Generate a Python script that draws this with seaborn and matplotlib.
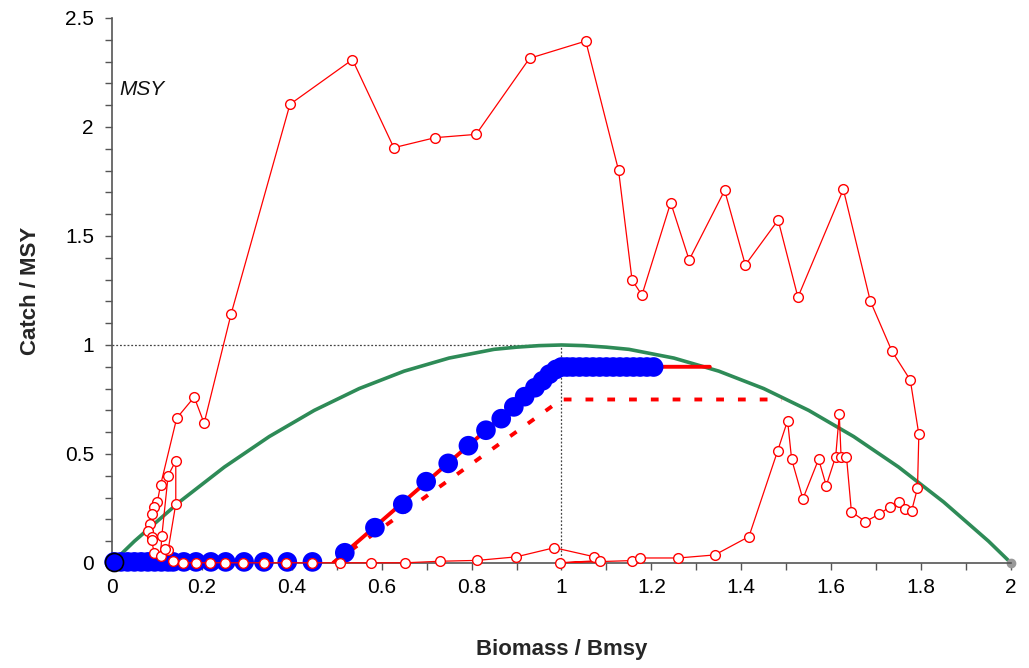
import numpy as np
import pandas as pd
import matplotlib
matplotlib.use("Agg")
import matplotlib.pyplot as plt
from matplotlib.ticker import MultipleLocator, FormatStrFormatter
import seaborn as sns

# --- data --------------------------------------------------------------------
# stock trajectory (Biomass/Bmsy, Catch/MSY), in path order
traj_b = [0.136, 0.158, 0.186, 0.217, 0.252, 0.292, 0.338, 0.388, 0.444, 0.508,
          0.577, 0.653, 0.730, 0.813, 0.899, 0.984, 1.072, 1.085, 0.997, 1.157,
          1.174, 1.260, 1.341, 1.417, 1.481, 1.503, 1.512, 1.537, 1.572, 1.589,
          1.610, 1.618, 1.622, 1.634, 1.645, 1.676, 1.706, 1.731, 1.751, 1.765,
          1.779, 1.792, 1.795, 1.776, 1.735, 1.687, 1.627, 1.526, 1.482, 1.409,
          1.363, 1.284, 1.243, 1.179, 1.157, 1.127, 1.054, 0.929, 0.810, 0.719,
          0.627, 0.535, 0.396, 0.265, 0.205, 0.183, 0.144, 0.108, 0.101, 0.094,
          0.090, 0.084, 0.080, 0.090, 0.088, 0.094, 0.108, 0.111, 0.125, 0.142,
          0.142, 0.125, 0.118]
traj_c = [0.008, 0.001, 0.001, 0.001, 0.001, 0.001, 0.001, 0.001, 0.001, 0.001,
          0.001, 0.001, 0.008, 0.012, 0.028, 0.070, 0.029, 0.011, 0.001, 0.011,
          0.023, 0.023, 0.037, 0.121, 0.515, 0.653, 0.476, 0.294, 0.476, 0.355,
          0.488, 0.682, 0.488, 0.488, 0.235, 0.190, 0.223, 0.258, 0.281, 0.246,
          0.240, 0.343, 0.590, 0.839, 0.972, 1.202, 1.714, 1.219, 1.573, 1.367,
          1.709, 1.390, 1.653, 1.229, 1.298, 1.801, 2.394, 2.315, 1.966, 1.951,
          1.905, 2.309, 2.104, 1.142, 0.641, 0.761, 0.664, 0.356, 0.281, 0.258,
          0.225, 0.179, 0.148, 0.121, 0.105, 0.047, 0.034, 0.125, 0.401, 0.469,
          0.271, 0.060, 0.063]

# catches given by the harvest control rule (blue dots)
rule_b = [0.005, 0.020, 0.035, 0.050, 0.065, 0.080, 0.095, 0.110, 0.125, 0.136,
          0.160, 0.187, 0.220, 0.253, 0.294, 0.338, 0.390, 0.446, 0.518, 0.585,
          0.647, 0.699, 0.748, 0.793, 0.832, 0.866, 0.894, 0.918, 0.941, 0.958,
          0.973, 0.988, 1.000, 1.012, 1.025, 1.040, 1.055, 1.070, 1.085, 1.100,
          1.115, 1.130, 1.145, 1.160, 1.175, 1.190, 1.205]
rule_c = [0.005, 0.005, 0.005, 0.005, 0.005, 0.005, 0.005, 0.005, 0.005, 0.005,
          0.005, 0.005, 0.005, 0.005, 0.005, 0.005, 0.005, 0.005, 0.047, 0.162,
          0.269, 0.373, 0.457, 0.538, 0.609, 0.662, 0.716, 0.763, 0.804, 0.836,
          0.866, 0.888, 0.899, 0.899, 0.899, 0.899, 0.899, 0.899, 0.899, 0.899,
          0.899, 0.899, 0.899, 0.899, 0.899, 0.899, 0.899]

# harvest control rules (solid = applied, dashed = precautionary)
hcr_b = [0.492, 0.995, 1.330]
hcr_c = [0.0, 0.900, 0.900]
pa_b = [0.492, 1.000, 1.490]
pa_c = [0.0, 0.750, 0.750]

# surplus production curve
prod_b = [0.01, 0.05, 0.1, 0.15, 0.2, 0.25, 0.3, 0.35, 0.4, 0.45, 0.5, 0.55,
          0.6, 0.65, 0.7, 0.75, 0.8, 0.85, 0.9, 0.95, 1.0, 1.05, 1.1, 1.15,
          1.2, 1.25, 1.3, 1.35, 1.4, 1.45, 1.5, 1.55, 1.6, 1.65, 1.7, 1.75,
          1.8, 1.85, 1.9, 1.95, 2.0]
prod_c = [0.02, 0.10, 0.19, 0.28, 0.36, 0.44, 0.51, 0.58, 0.64, 0.70, 0.75, 0.80,
          0.84, 0.88, 0.91, 0.94, 0.96, 0.98, 0.99, 0.997, 1.0, 0.997, 0.99, 0.98,
          0.96, 0.94, 0.91, 0.88, 0.84, 0.80, 0.75, 0.70, 0.64, 0.58, 0.51, 0.44,
          0.36, 0.28, 0.19, 0.10, 0.0]

# --- style ---------------------------------------------------------------------
sns.set_style("ticks")
plt.rcParams['font.family'] = ['Liberation Sans', 'DejaVu Sans']
AXIS_GREY = "#555555"

fig = plt.figure(figsize=(10.29, 6.68), dpi=100)
ax = fig.add_axes([0.1088, 0.1572, 0.8737, 0.8159])

# reference lines at MSY / Bmsy
ax.plot([0, 1], [1, 1], color="#444444", lw=0.9, ls=(0, (1.5, 1.5)), zorder=1)
ax.plot([1, 1], [0, 1], color="#444444", lw=0.9, ls=(0, (1.5, 1.5)), zorder=1)

sns.lineplot(x=prod_b, y=prod_c, color="#2e8b57", lw=2.6, sort=False,
             estimator=None, ax=ax, zorder=2)
ax.plot(prod_b[-1], prod_c[-1], "o", color="#999999", ms=6, clip_on=False, zorder=2)

sns.lineplot(x=pa_b, y=pa_c, color="red", lw=2.8, sort=False, estimator=None,
             ax=ax, zorder=3)
ax.lines[-1].set_dashes((2.0, 3.6))
sns.lineplot(x=hcr_b, y=hcr_c, color="red", lw=2.8, sort=False, estimator=None,
             ax=ax, zorder=3)

sns.scatterplot(x=rule_b, y=rule_c, s=200, color="blue", edgecolor="none",
                ax=ax, zorder=4, clip_on=False)
ax.plot(rule_b[0], rule_c[0], "o", ms=13, mfc="blue", mec="black", mew=1.2,
        clip_on=False, zorder=4)

sns.lineplot(x=traj_b, y=traj_c, color="red", lw=0.9, sort=False, estimator=None,
             marker="o", markersize=7, markerfacecolor="white",
             markeredgecolor="red", markeredgewidth=1.0, ax=ax, zorder=5)
ax.lines[-1].set_clip_on(False)

ax.text(0.016, 2.17, "MSY", fontsize=15, style="italic", ha="left", va="center",
        color="#111111")

# --- axes ------------------------------------------------------------------------
ax.set_xlim(0, 2)
ax.set_ylim(0, 2.5)
ax.xaxis.set_major_locator(MultipleLocator(0.2))
ax.xaxis.set_minor_locator(MultipleLocator(0.1))
ax.yaxis.set_major_locator(MultipleLocator(0.5))
ax.yaxis.set_minor_locator(MultipleLocator(0.1))
ax.xaxis.set_major_formatter(FormatStrFormatter('%g'))
ax.yaxis.set_major_formatter(FormatStrFormatter('%g'))
ax.tick_params(which="both", direction="out", length=5, width=1, color=AXIS_GREY,
               labelsize=15, labelcolor="black")
ax.tick_params(axis="x", pad=6)
ax.tick_params(axis="y", pad=8)
sns.despine(ax=ax)
for side in ("left", "bottom"):
    ax.spines[side].set_color(AXIS_GREY)
    ax.spines[side].set_linewidth(1.2)

ax.set_xlabel("Biomass / Bmsy", fontsize=16, fontweight="bold", labelpad=30)
ax.set_ylabel("Catch / MSY", fontsize=16, fontweight="bold", labelpad=17)

fig.savefig("out.png", dpi=100, facecolor="white")
